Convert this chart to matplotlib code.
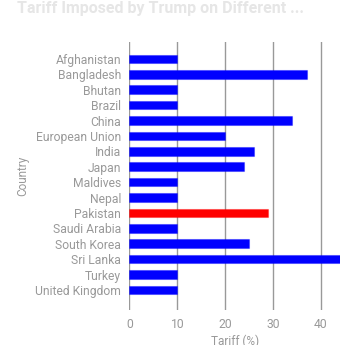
import matplotlib
matplotlib.use("Agg")
import matplotlib.pyplot as plt

countries = ["Afghanistan", "Bangladesh", "Bhutan", "Brazil", "China", "European Union",
             "India", "Japan", "Maldives", "Nepal", "Pakistan", "Saudi Arabia",
             "South Korea", "Sri Lanka", "Turkey", "United Kingdom"]
tariffs = [10, 37, 10, 10, 34, 20, 26, 24, 10, 10, 29, 10, 25, 44, 10, 10]
highlight = "Pakistan"
xticks = [0, 10, 20, 30, 40]

plt.rcParams['font.family'] = ['Roboto', 'DejaVu Sans']

fig = plt.figure(figsize=(3.61, 3.45), dpi=100)
ax = fig.add_axes([0.3587, 0.1014, 0.5831, 0.7769])

colors = ["#ff0000" if c == highlight else "#0000ff" for c in countries]
y = list(range(len(countries)))
ax.barh(y, tariffs, height=0.56, color=colors, edgecolor=[c + "55" for c in colors], linewidth=0.8, zorder=3)

ax.set_xlim(0, 44)
ax.set_ylim(16.3, -1.1)
ax.set_xticks(xticks)
ax.set_yticks(y)
ax.set_yticklabels(countries)
ax.grid(axis='x', color='#999999', linewidth=1.0, zorder=0)
ax.tick_params(axis='both', length=0, labelsize=8.7, labelcolor='#999999')
ax.tick_params(axis='x', pad=6)
ax.tick_params(axis='y', pad=6)
for s in ax.spines.values():
    s.set_visible(False)

ax.set_xlabel("Tariff (%)", fontsize=8.5, color='#999999', labelpad=2)
ax.set_ylabel("Country", fontsize=8.5, color='#999999', labelpad=4)

fig.text(0.047, 0.975, "Tariff Imposed by Trump on Different ...", fontsize=11.5, fontweight='bold',
         color='#e6e6e6', ha='left', va='center')

fig.savefig("out.png", dpi=100)
